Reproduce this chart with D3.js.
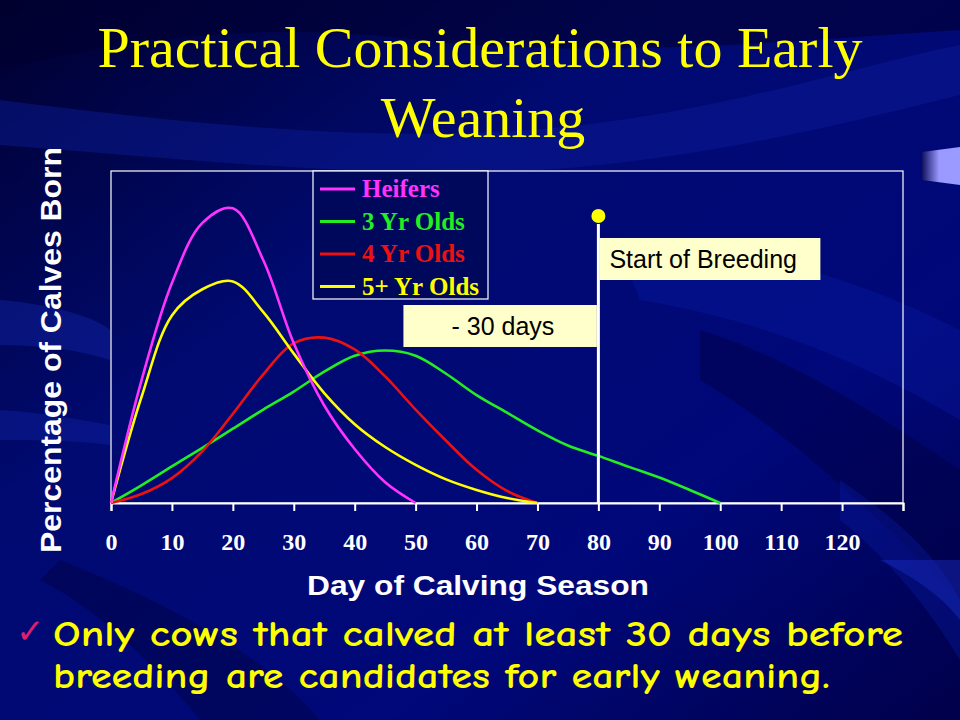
<!DOCTYPE html>
<html>
<head>
<meta charset="utf-8">
<script src="https://cdn.jsdelivr.net/npm/d3@7"></script>
<style>
	body { margin: 0; background: #000066; }
	svg { display: block; }
</style>
</head>
<body>
<script>
var width = 960,
	height = 720;

var days = [0, 5, 10, 15, 20, 25, 30, 35, 40, 45, 50, 55, 60, 65, 70, 75, 80, 85, 90, 95, 100];

var heifers = [0, 5.9, 10.6, 13.5, 14.2, 11.7, 7.7, 4.7, 2.6, 1.0, 0];
var threeYr = [0, 0.85, 1.76, 2.66, 3.58, 4.5, 5.37, 6.33, 7.1, 7.35, 7.1, 6.23, 5.2, 4.35, 3.5, 2.77, 2.27, 1.74, 1.23, 0.63, 0];
var fourYr = [0, 0.43, 1.2, 2.5, 4.3, 6.2, 7.7, 7.97, 7.4, 6.1, 4.5, 3.0, 1.6, 0.58, 0];
var fivePlus = [0, 5.1, 9.04, 10.3, 10.68, 9.2, 7.2, 5.3, 3.8, 2.7, 1.84, 1.14, 0.63, 0.24, 0];

var seriesNames = ['Heifers', '3 Yr Olds', '4 Yr Olds', '5+ Yr Olds'];
var seriesColors = ['#ff33ff', '#22ee22', '#ee1111', '#ffff00'];
var seriesValues = [heifers, threeYr, fourYr, fivePlus];

var xTicks = [0, 10, 20, 30, 40, 50, 60, 70, 80, 90, 100, 110, 120, 130];
var breedingDay = 80;

var plot = { left: 111, right: 903, top: 171, bottom: 503 };

var svg = d3.select('body')
	.append('svg')
	.attr('width', width)
	.attr('height', height);

var defs = svg.append('defs');

var bg = defs.append('linearGradient')
	.attr('id', 'bg')
	.attr('x1', 0).attr('y1', 0)
	.attr('x2', 1).attr('y2', 1);
bg.append('stop').attr('offset', '0%').attr('stop-color', '#00002e');
bg.append('stop').attr('offset', '35%').attr('stop-color', '#000a70');
bg.append('stop').attr('offset', '70%').attr('stop-color', '#00087a');
bg.append('stop').attr('offset', '100%').attr('stop-color', '#00004a');

var tab = defs.append('linearGradient')
	.attr('id', 'tab')
	.attr('x1', 0).attr('y1', 0)
	.attr('x2', 1).attr('y2', 0);
tab.append('stop').attr('offset', '0%').attr('stop-color', '#101060');
tab.append('stop').attr('offset', '45%').attr('stop-color', '#9999ff');
tab.append('stop').attr('offset', '100%').attr('stop-color', '#9a9aff');

svg.append('rect')
	.attr('width', width)
	.attr('height', height)
	.attr('fill', 'url(#bg)');

// background swooshes
var waves = [
	{ d: 'M0,100 C200,125 420,150 620,120 C760,100 880,60 960,45 L960,95 C860,120 740,150 600,165 C420,185 200,160 0,145 Z', fill: '#0a1c9a', op: 0.45 },
	{ d: 'M0,0 L960,0 L960,30 C800,40 600,60 420,40 C250,20 120,40 0,70 Z', fill: '#000030', op: 0.6 },
	{ d: 'M0,300 C60,305 100,320 110,330 L110,360 C80,350 40,345 0,345 Z', fill: '#1428b0', op: 0.4 },
	{ d: 'M0,410 C40,412 80,420 110,425 L110,445 C70,440 30,440 0,440 Z', fill: '#1428b0', op: 0.35 },
	{ d: 'M620,250 C760,240 880,290 960,330 L960,420 C860,360 760,320 640,300 Z', fill: '#0a1ca5', op: 0.35 },
	{ d: 'M700,330 C800,360 900,430 960,470 L960,600 C880,520 800,440 700,380 Z', fill: '#000040', op: 0.45 },
	{ d: 'M840,480 C900,520 940,560 960,600 L960,660 C930,610 890,560 840,520 Z', fill: '#0a1ca5', op: 0.35 },
	{ d: 'M60,560 C160,600 260,650 320,720 L200,720 C160,670 100,610 40,580 Z', fill: '#000030', op: 0.35 },
	{ d: 'M880,560 C920,580 945,600 960,620 L960,560 Z', fill: '#1a2cc0', op: 0.45 }
];

svg.selectAll('path.wave')
	.data(waves)
	.enter()
	.append('path')
	.attr('class', 'wave')
	.attr('d', function(d) { return d.d; })
	.attr('fill', function(d) { return d.fill; })
	.attr('opacity', function(d) { return d.op; });

svg.append('path')
	.attr('d', 'M922,152 L960,147 L960,185 L922,180 Z')
	.attr('fill', 'url(#tab)');

// title
var title = svg.append('g')
	.attr('font-family', '"Liberation Serif", "Times New Roman", serif')
	.attr('font-size', 58)
	.attr('fill', '#ffff00')
	.attr('text-anchor', 'middle');
title.append('text').attr('x', 480).attr('y', 67).text('Practical Considerations to Early');
title.append('text').attr('x', 483).attr('y', 137).text('Weaning');

var x = d3.scaleLinear()
	.domain([0, 130])
	.range([plot.left, plot.right]);

var y = d3.scaleLinear()
	.domain([0, 16])
	.range([plot.bottom, plot.top]);

// plot frame
svg.append('rect')
	.attr('x', plot.left)
	.attr('y', plot.top)
	.attr('width', plot.right - plot.left)
	.attr('height', plot.bottom - plot.top)
	.attr('fill', 'none')
	.attr('stroke', '#ffffff')
	.attr('stroke-width', 1.2);

var xAxis = d3.axisBottom(x)
	.tickValues(xTicks)
	.tickSize(8)
	.tickPadding(22)
	.tickFormat(function(d) { return d <= 120 ? d : ''; });

var gx = svg.append('g')
	.attr('transform', 'translate(0,' + plot.bottom + ')')
	.call(xAxis);
gx.select('.domain').attr('stroke', '#ffffff').attr('stroke-width', 2);
gx.selectAll('.tick line').attr('stroke', '#ffffff').attr('stroke-width', 2);
gx.selectAll('.tick text')
	.attr('fill', '#ffffff')
	.attr('font-family', '"Liberation Serif", "Times New Roman", serif')
	.attr('font-weight', 'bold')
	.attr('font-size', 24);

var line = d3.line()
	.x(function(d) { return x(d.day); })
	.y(function(d) { return y(d.value); })
	.curve(d3.curveCatmullRom.alpha(0.5));

var series = seriesValues.map(function(vals, i) {
	return {
		name: seriesNames[i],
		color: seriesColors[i],
		points: vals.map(function(v, j) { return { day: days[j], value: v }; })
	};
});

// draw green, red, yellow, then magenta on top
svg.selectAll('path.series')
	.data([series[1], series[2], series[3], series[0]])
	.enter()
	.append('path')
	.attr('class', 'series')
	.attr('d', function(d) { return line(d.points); })
	.attr('fill', 'none')
	.attr('stroke', function(d) { return d.color; })
	.attr('stroke-width', 2.6)
	.attr('stroke-linejoin', 'round');

// start of breeding marker
var bx = x(breedingDay);
svg.append('line')
	.attr('x1', bx).attr('x2', bx)
	.attr('y1', 224).attr('y2', plot.bottom)
	.attr('stroke', '#ffffff')
	.attr('stroke-width', 3);
svg.append('circle')
	.attr('cx', bx).attr('cy', 216)
	.attr('r', 7)
	.attr('fill', '#ffff00');

var notes = svg.append('g')
	.attr('font-family', '"Liberation Sans", Arial, sans-serif')
	.attr('font-size', 25)
	.attr('fill', '#000000');

notes.append('rect')
	.attr('x', bx + 1).attr('y', 238)
	.attr('width', 221).attr('height', 42)
	.attr('fill', '#ffffcc');
notes.append('text')
	.attr('x', bx + 11).attr('y', 268)
	.text('Start of Breeding');

notes.append('rect')
	.attr('x', x(breedingDay - 32)).attr('y', 305)
	.attr('width', bx - 1.5 - x(breedingDay - 32)).attr('height', 42)
	.attr('fill', '#ffffcc');
notes.append('text')
	.attr('x', (x(breedingDay - 32) + bx) / 2 + 2).attr('y', 335)
	.attr('text-anchor', 'middle')
	.text('- 30 days');

// legend
var legend = svg.append('g')
	.attr('transform', 'translate(313,171)');
legend.append('rect')
	.attr('width', 175)
	.attr('height', 128)
	.attr('fill', '#00085c')
	.attr('stroke', '#ffffff')
	.attr('stroke-width', 1.2);

var items = legend.selectAll('g.item')
	.data(series)
	.enter()
	.append('g')
	.attr('class', 'item')
	.attr('transform', function(d, i) { return 'translate(0,' + (18 + i * 32.5) + ')'; });
items.append('line')
	.attr('x1', 7).attr('x2', 42)
	.attr('stroke', function(d) { return d.color; })
	.attr('stroke-width', 3);
items.append('text')
	.attr('x', 49)
	.attr('y', 8)
	.attr('fill', function(d) { return d.color; })
	.attr('font-family', '"Liberation Serif", "Times New Roman", serif')
	.attr('font-weight', 'bold')
	.attr('font-size', 25)
	.text(function(d) { return d.name; });

// axis titles
svg.append('text')
	.attr('x', 478)
	.attr('y', 595)
	.attr('text-anchor', 'middle')
	.attr('font-family', '"Liberation Sans", Arial, sans-serif')
	.attr('font-weight', 'bold')
	.attr('font-size', 27)
	.attr('fill', '#ffffff')
	.attr('textLength', 342)
	.attr('lengthAdjust', 'spacingAndGlyphs')
	.text('Day of Calving Season');

svg.append('text')
	.attr('transform', 'translate(61,350) rotate(-90)')
	.attr('text-anchor', 'middle')
	.attr('font-family', '"Liberation Sans", Arial, sans-serif')
	.attr('font-weight', 'bold')
	.attr('font-size', 29)
	.attr('fill', '#ffffff')
	.attr('textLength', 406)
	.attr('lengthAdjust', 'spacingAndGlyphs')
	.text('Percentage of Calves Born');

// bullet text
svg.append('text')
	.attr('x', 16)
	.attr('y', 643)
	.attr('font-family', '"DejaVu Sans", sans-serif')
	.attr('font-size', 34)
	.attr('fill', '#dd1f6f')
	.text('\u2713');

var bullet = svg.append('g')
	.attr('font-family', '"Comic Sans MS", "Comic Neue", "DejaVu Sans", sans-serif')
	.attr('font-weight', 'bold')
	.attr('font-size', 36)
	.attr('fill', '#ffff00');
bullet.append('text')
	.attr('x', 53).attr('y', 646)
	.attr('textLength', 850)
	.attr('lengthAdjust', 'spacingAndGlyphs')
	.text('Only cows that calved at least 30 days before');
bullet.append('text')
	.attr('x', 53).attr('y', 688)
	.attr('textLength', 777)
	.attr('lengthAdjust', 'spacingAndGlyphs')
	.text('breeding are candidates for early weaning.');
</script>
</body>
</html>
